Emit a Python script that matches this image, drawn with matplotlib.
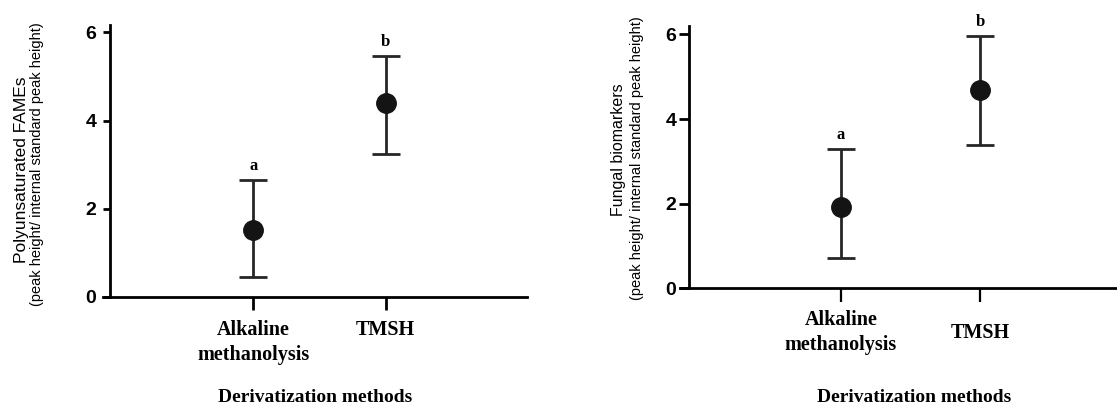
import matplotlib
matplotlib.use("Agg")
import matplotlib.pyplot as plt
import numpy as np

# ---- data ----
categories = ["Alkaline\nmethanolysis", "TMSH"]
letters = ["a", "b"]

pufa_mean = [1.52, 4.41]
pufa_low = [0.45, 3.25]
pufa_high = [2.65, 5.46]

fungal_mean = [1.92, 4.68]
fungal_low = [0.72, 3.38]
fungal_high = [3.30, 5.97]

y_ticks = [0, 2, 4, 6]
x_title = "Derivatization methods"
left_ylabel = ["Polyunsaturated FAMEs", "(peak height/ internal standard peak height)"]
right_ylabel = ["Fungal biomarkers", "(peak height/ internal standard peak height)"]

W, H = 1117, 405
fig = plt.figure(figsize=(W / 100, H / 100), dpi=100)

SERIF = "Liberation Serif"
SANS = "Liberation Sans"


def px_ax(x0, x1, ytop, ybot):
    return [x0 / W, 1 - ybot / H, (x1 - x0) / W, (ybot - ytop) / H]


def panel(rect, xlim, ylim, yspine_x, means, lows, highs, ytick_len, ytick_pad,
          xtick_len, xtick_w, xlab_va, xlab_pad):
    ax = fig.add_axes(rect)
    x = np.arange(len(means))
    m = np.array(means)
    yerr = [m - np.array(lows), np.array(highs) - m]
    ax.errorbar(x, m, yerr=yerr, fmt="o", color="#262626", ecolor="#262626",
                elinewidth=2.0, capsize=10, capthick=2.0, ms=14,
                mfc="#141414", mec="#141414", zorder=3)
    for xi, hi, lt in zip(x, highs, letters):
        ax.annotate(lt, (xi, hi), xytext=(0, 10), textcoords="offset points",
                    ha="center", va="center", fontsize=12, fontweight="bold",
                    family=SERIF)
    ax.set_xlim(*xlim)
    ax.set_ylim(*ylim)
    for s in ["top", "right"]:
        ax.spines[s].set_visible(False)
    ax.spines["left"].set_position(("data", yspine_x))
    ax.spines["left"].set_bounds(0, ylim[1])
    ax.spines["left"].set_linewidth(2)
    ax.spines["bottom"].set_linewidth(2)
    ax.set_yticks(y_ticks)
    ax.set_yticklabels([str(v) for v in y_ticks], fontsize=14, fontweight="bold",
                       family=SANS)
    ax.tick_params(axis="y", length=ytick_len, width=2, pad=ytick_pad)
    ax.set_xticks(x)
    ax.set_xticklabels(categories, fontsize=14.5, fontweight="bold", family=SERIF,
                       linespacing=1.3)
    ax.tick_params(axis="x", length=xtick_len, width=xtick_w, pad=xlab_pad)
    for lab in ax.get_xticklabels():
        lab.set_va(xlab_va)
    return ax


ax1 = panel(px_ax(103, 527, 25, 296.7), (-1.135, 2.067), (0, 6.17), -1.082,
            pufa_mean, pufa_low, pufa_high, 5, 5, 9, 2, "top", 8)
ax2 = panel(px_ax(680, 1148, 26, 288.3), (-1.154, 2.201), (0, 6.2), -1.090,
            fungal_mean, fungal_low, fungal_high, 7, 2, 10, 1.6, "center", 22)

# x titles
fig.text(315 / W, 1 - 397 / H, x_title, ha="center", va="center", fontsize=14,
         fontweight="bold", family=SERIF)
fig.text(914 / W, 1 - 397 / H, x_title, ha="center", va="center", fontsize=14,
         fontweight="bold", family=SERIF)

# y labels
fig.text(21.7 / W, 1 - 170 / H, left_ylabel[0], rotation=90, ha="center",
         va="center", fontsize=12.5, family=SANS)
fig.text(36.7 / W, 1 - 164 / H, left_ylabel[1], rotation=90, ha="center",
         va="center", fontsize=10.5, family=SANS)
fig.text(618.3 / W, 1 - 150 / H, right_ylabel[0], rotation=90, ha="center",
         va="center", fontsize=11.5, family=SANS)
fig.text(636.7 / W, 1 - 158 / H, right_ylabel[1], rotation=90, ha="center",
         va="center", fontsize=10.5, family=SANS)

fig.savefig("out.png", dpi=100)
